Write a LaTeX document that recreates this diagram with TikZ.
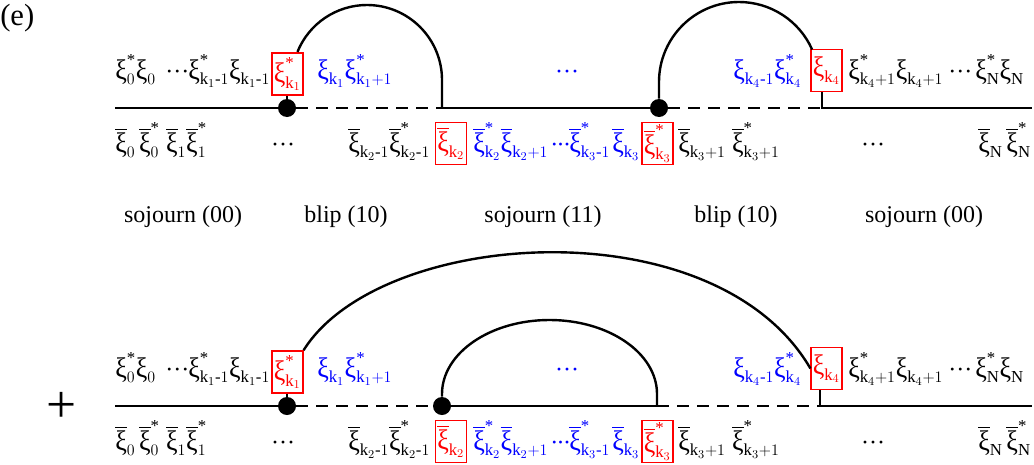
\documentclass[tikz,border=0pt]{standalone}
\usepackage{amsmath}
\usepackage{graphicx}
\usepackage{fontspec}
\setmainfont{Liberation Serif}
\usetikzlibrary{calc}

% simbolos de las trayectorias
\newcommand{\xs}{\text{\scalebox{1.08}[1.18]{ξ}}}
\newcommand{\xb}{\overline{\xs}}
\newcommand{\st}{\text{*}}
\newcommand{\kk}[1]{\mathrm{k}_{#1}}
\newcommand{\mo}{\text{-}1}
\newcommand{\tdots}{\text{···}}
\newcommand{\sdots}{\text{·\kern-1.2pt·\kern-1.2pt·}}

\tikzset{
  wire/.style={line width=1.8pt},
  dashwire/.style={wire, dash pattern=on 9pt off 6pt},
  dot/.style={circle, fill, inner sep=0pt, minimum size=13.5pt},
  txt/.style={anchor=base west, inner sep=0pt},
  bluetxt/.style={txt, text=blue},
  redbox/.style={draw=red, text=red, line width=1.1pt, inner sep=0pt,
    minimum width=23pt, minimum height=31.5pt},
  tramo/.style={anchor=base, inner sep=0pt}
}

\begin{document}
\begin{tikzpicture}[x=0.75pt, y=-0.75pt, font=\fontsize{18}{22}\selectfont]
    \useasboundingbox (0,0) rectangle (1034,464);

    \node[txt, font=\fontsize{23}{26}\selectfont] (lab) at (0,25) {(e)};
    \node[inner sep=0pt, font=\fontsize{40}{44}\selectfont] (plus) at (62,407) {+};

    % Filas de indices (diagrama de arriba y de abajo)
    \foreach \dy/\r in {0/a, 298/b} {
      \begin{scope}[shift={(0,\dy)}]
        \node[txt] (s0\r) at (115,79) {$\xs^{\st}_{0}\xs_{0}$};
        \node[txt] (p0\r) at (165,79) {\tdots};
        \node[txt] (s1\r) at (188,79) {$\xs^{\st}_{\kk1\mo}\xs_{\kk1\mo}$};
        \node[redbox] (k1\r) at (287.5,74) {$\xs^{\st}_{\kk1}$};
        \node[bluetxt] (s2\r) at (317,79) {$\xs_{\kk1}\xs^{\st}_{\kk1+1}$};
        \node[tramo, text=blue] (p1\r) at (567,79) {\tdots};
        \node[bluetxt] (s3\r) at (733,79) {$\xs_{\kk4\mo}\xs^{\st}_{\kk4}$};
        \node[redbox] (k4\r) at (826.5,70.5) {$\xs_{\kk4}$};
        \node[txt] (s4\r) at (848,79) {$\xs^{\st}_{\kk4+1}\xs_{\kk4+1}$};
        \node[txt] (p2\r) at (948,79) {\tdots};
        \node[txt] (s5\r) at (975,79) {$\xs^{\st}_{\mathrm{N}}\xs_{\mathrm{N}}$};

        \node[txt] (e0\r) at (115,152) {$\xb_{0}\,\xb^{\st}_{0}\;\xb_{1}\xb^{\st}_{1}$};
        \node[tramo] (q0\r) at (283,152) {\tdots};
        \node[txt] (e1\r) at (348,152) {$\xb_{\kk2\mo}\xb^{\st}_{\kk2\mo}$};
        \node[redbox] (k2\r) at (451,143.5) {$\xb_{\kk2}$};
        \node[bluetxt] (e2\r) at (473,152) {$\xb^{\st}_{\kk2}\xb_{\kk2+1}$};
        \node[bluetxt] (e3\r) at (550,152) {\sdots};
        \node[bluetxt] (e4\r) at (569,152) {$\xb^{\st}_{\kk3\mo}$};
        \node[bluetxt] (e5\r) at (612,152) {$\xb_{\kk3}$};
        \node[redbox] (k3\r) at (657.5,143.5) {$\xb^{\st}_{\kk3}$};
        \node[txt] (e6\r) at (678,152) {$\xb_{\kk3+1}\;\xb^{\st}_{\kk3+1}$};
        \node[tramo] (q1\r) at (873,152) {\tdots};
        \node[txt] (e7\r) at (978,152) {$\xb_{\mathrm{N}}\,\xb^{\st}_{\mathrm{N}}$};
      \end{scope}
    }

    % Tramos
    \node[tramo] (t1) at (183,222) {sojourn (00)};
    \node[tramo] (t2) at (346,222) {blip (10)};
    \node[tramo] (t3) at (543,222) {sojourn (11)};
    \node[tramo] (t4) at (736,222) {blip (10)};
    \node[tramo] (t5) at (924,222) {sojourn (00)};

    % Diagrama de arriba
    \coordinate (L0) at (115,108);
    \coordinate (R0) at (1032,108);
    \coordinate (c1) at (442,108);
    \coordinate (c2) at (822,108);
    \node[dot] (d1) at (287,108) {};
    \node[dot] (d2) at (659,108) {};
    \draw[wire] (L0) -- (d1);
    \draw[dashwire] (d1) -- (c1);
    \draw[wire] (c1) -- (d2);
    \draw[dashwire] (d2) -- (c2);
    \draw[wire] (c2 |- k4a.south) -- (c2) -- (R0);
    \draw[wire] (k1a.south -| d1) -- (d1);
    \draw[wire] (c1) -- ++(0,-28) arc[start angle=0, end angle=-158, radius=75];
    \draw[wire] (d2) -- ++(0,-26) arc[start angle=180, end angle=336, radius=80];

    % Diagrama de abajo
    \coordinate (L1) at (115,406);
    \coordinate (R1) at (1032,406);
    \coordinate (c3) at (657,406);
    \coordinate (c4) at (820,406);
    \node[dot] (d3) at (287,406) {};
    \node[dot] (d4) at (442,406) {};
    \draw[wire] (L1) -- (d3);
    \draw[dashwire] (d3) -- (d4);
    \draw[wire] (d4) -- (c3);
    \draw[dashwire] (c3) -- (c4);
    \draw[wire] (c4 |- k4b.south) -- (c4) -- (R1);
    \draw[wire] (k1b.south -| d3) -- (d3);
    \draw[wire] (d4) -- ++(0,-12) arc[start angle=180, end angle=360, x radius=107.5, y radius=74] -- (c3);
    \draw[wire] (k1b.north east) .. controls (380,228) and (715,205) .. (k4b.west);
\end{tikzpicture}
\end{document}
